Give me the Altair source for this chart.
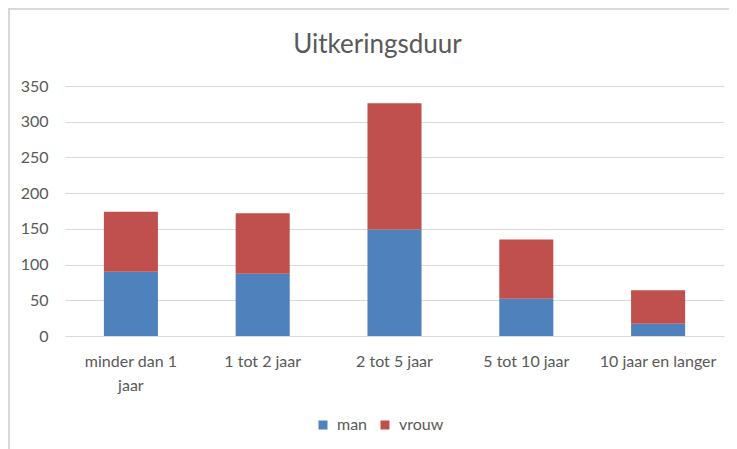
import altair as alt
import pandas as pd

categories = ["minder dan 1 jaar", "1 tot 2 jaar", "2 tot 5 jaar", "5 tot 10 jaar", "10 jaar en langer"]
man = [90, 87, 149, 52, 17]
vrouw = [84, 85, 177, 83, 47]
series = ["man", "vrouw"]
colors = ["#4F81BD", "#C0504D"]
title_text = "Uitkeringsduur"

rows = []
for c, m, v in zip(categories, man, vrouw):
    rows.append({"categorie": c, "geslacht": "man", "aantal": m, "volgorde": 0})
    rows.append({"categorie": c, "geslacht": "vrouw", "aantal": v, "volgorde": 1})
df = pd.DataFrame(rows)

FONT = "Lato"
GREY = "#595959"

one = pd.DataFrame({"t": [title_text]})

frame = alt.Chart(one).mark_rect(
    fill="transparent", stroke="#d9d9d9", strokeWidth=2
).encode(
    x=alt.value(-56), x2=alt.value(720), y=alt.value(-77), y2=alt.value(420)
)

title = alt.Chart(one).mark_text(
    font=FONT, fontSize=26, color=GREY, align="center", baseline="alphabetic"
).encode(
    text="t:N", x=alt.value(312.5), y=alt.value(-33)
)

bars = alt.Chart(df).mark_bar().encode(
    x=alt.X("categorie:N", sort=categories, title=None,
            scale=alt.Scale(paddingInner=0.59, paddingOuter=0.295),
            axis=alt.Axis(labelAngle=0, domain=False, ticks=False, labelPadding=17,
                          labelExpr="datum.value == 'minder dan 1 jaar' ? ['minder dan 1', 'jaar'] : datum.value",
                          labelLineHeight=24, labelBaseline="top")),
    y=alt.Y("aantal:Q", stack="zero", title=None,
            scale=alt.Scale(domain=[0, 350], nice=False),
            axis=alt.Axis(values=[0, 50, 100, 150, 200, 250, 300, 350], domain=False, ticks=False,
                          labelPadding=17, gridColor="#d9d9d9", gridWidth=1)),
    color=alt.Color("geslacht:N", scale=alt.Scale(domain=series, range=colors),
                    legend=alt.Legend(title=None, orient="none", direction="horizontal",
                                      legendX=250, legendY=331, symbolType="square",
                                      symbolSize=81, symbolStrokeWidth=0, labelOffset=6,
                                      columnPadding=9, padding=0)),
    order=alt.Order("volgorde:Q", sort="ascending"),
)

chart = alt.layer(frame, title, bars).properties(
    width=659, height=250,
    autosize=alt.AutoSizeParams(type="none"),
    padding={"left": 57, "top": 78, "right": 5, "bottom": 113},
).configure_axis(
    labelFont=FONT, labelFontSize=16, labelColor=GREY
).configure_legend(
    labelFont=FONT, labelFontSize=16, labelColor=GREY
).configure_view(stroke=None)

chart.save("out.html", embed_options={"renderer": "svg", "actions": False})
